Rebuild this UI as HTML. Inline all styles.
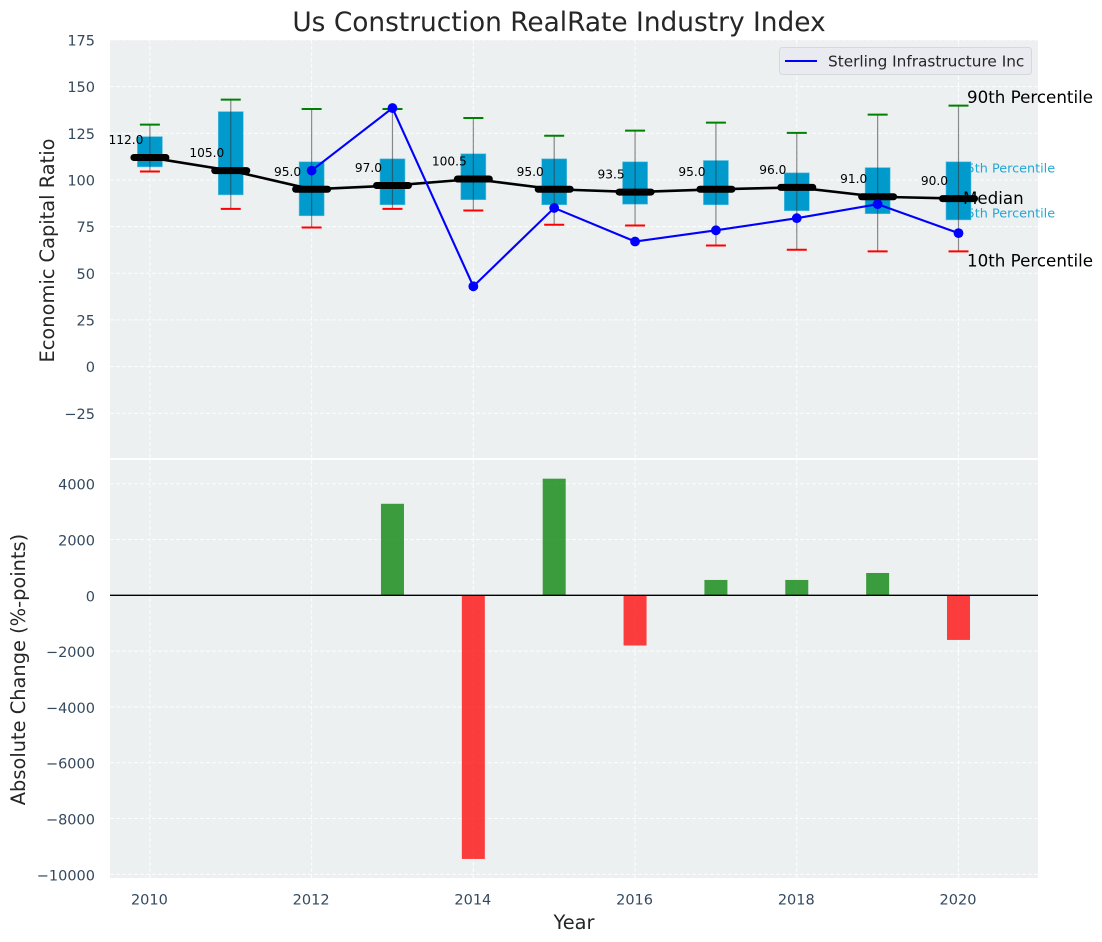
<!DOCTYPE html>
<html>
<head>
<meta charset="utf-8">
<title>Us Construction RealRate Industry Index</title>
<style>
html,body{margin:0;padding:0;background:#fff;}
svg{display:block;font-family:"DejaVu Sans","Liberation Sans",sans-serif;}
</style>
</head>
<body>
<svg id="chart" width="1102" height="942" viewBox="0 0 1102 942" xmlns="http://www.w3.org/2000/svg">
  <text x="559" y="31" font-size="26.4" fill="#262626" text-anchor="middle">Us Construction RealRate Industry Index</text>
  <rect x="110" y="40" width="928" height="418" fill="#ecf0f1"/>
  <rect x="110" y="460" width="928" height="418" fill="#ecf0f1"/>
  <g id="grid"></g>
  <g id="ticks"></g>
  <g id="percentile-side-labels"></g>
  <g id="boxes"></g>
  <g id="median-line"></g>
  <g id="company-line"></g>
  <g id="median-labels"></g>
  <g id="change-bars"></g>
  <text transform="translate(54 250.5) rotate(-90)" font-size="19.4" fill="#262626" text-anchor="middle">Economic Capital Ratio</text>
  <text transform="translate(25 669.5) rotate(-90)" font-size="19.4" fill="#262626" text-anchor="middle">Absolute Change (%-points)</text>
  <text x="574" y="929" font-size="19.4" fill="#262626" text-anchor="middle">Year</text>
  <g>
    <rect x="779.5" y="47.5" width="252" height="27" rx="3" fill="#e9ebf0" stroke="#d5d8dc"/>
    <line x1="785" y1="61" x2="817" y2="61" stroke="#0000ff" stroke-width="2"/>
    <text x="828" y="66.5" font-size="15.3" fill="#262626">Sterling Infrastructure Inc</text>
  </g>
</svg>
<script>
var years = [2010,2011,2012,2013,2014,2015,2016,2017,2018,2019,2020];
var p90 = [129.6,143,138,138,133.2,123.7,126.4,130.7,125.2,135,139.8];
var p75 = [123.2,136.6,109.7,111.3,114,111.3,109.7,110.4,103.8,106.6,109.7];
var medians = [112,105,95,97,100.5,95,93.5,95,96,91,90];
var p25 = [107,92,80.8,86.7,89.4,86.7,87,86.7,83.5,81.9,78.6];
var p10 = [104.5,84.5,74.5,84.5,83.6,76,75.6,64.9,62.6,61.7,61.7];
var companyYears = [2012,2013,2014,2015,2016,2017,2018,2019,2020];
var companyValues = [105,138.5,43,85,67,73,79.5,87,71.5];
var changeYears = [2013,2014,2015,2016,2017,2018,2019,2020];
var changeValues = [3280,-9450,4180,-1800,550,550,800,-1600];
var xTickYears = [2010,2012,2014,2016,2018,2020];
var upperTicks = [175,150,125,100,75,50,25,0,-25];
var lowerTicks = [4000,2000,0,-2000,-4000,-6000,-8000,-10000];

var NS = 'http://www.w3.org/2000/svg';
function xScale(v){ return 149.9 + (v - 2010) * 80.86; }
function yUp(v){ return 366.6 - v * 1.8667; }
function yLow(v){ return 595.3 - v * 0.0279; }
function make(parentId, tag, attrs, text){
  var el = document.createElementNS(NS, tag);
  for (var k in attrs) el.setAttribute(k, attrs[k]);
  if (text !== undefined) el.textContent = text;
  document.getElementById(parentId).appendChild(el);
  return el;
}
function fmt(v){ return String(v).replace('-', '\u2212'); }
var el;

// grid
xTickYears.forEach(function(y){
  [[40,458],[460,878]].forEach(function(r){
    el = make('grid','line',{x1:xScale(y),x2:xScale(y),y1:r[0],y2:r[1],stroke:'#ffffff','stroke-width':1.1,'stroke-dasharray':'4 2',opacity:0.8});
    
    
  });
});
upperTicks.forEach(function(t){
  el = make('grid','line',{x1:110,x2:1038,y1:yUp(t),y2:yUp(t),stroke:'#ffffff','stroke-width':1.1,'stroke-dasharray':'4 2',opacity:0.8});
  
  
  el = make('ticks','text',{x:95,y:yUp(t)+5.5,'font-size':14.5,fill:'#34495e','text-anchor':'end'},fmt(t));
  
  
});
lowerTicks.forEach(function(t){
  el = make('grid','line',{x1:110,x2:1038,y1:yLow(t),y2:yLow(t),stroke:'#ffffff','stroke-width':1.1,'stroke-dasharray':'4 2',opacity:0.8});
  
  
  el = make('ticks','text',{x:95,y:yLow(t)+6,'font-size':14.5,fill:'#34495e','text-anchor':'end'},fmt(t));
  
  
});
xTickYears.forEach(function(y){
  el = make('ticks','text',{x:xScale(y)-0.5,y:904.5,'font-size':14.5,fill:'#34495e','text-anchor':'middle'},String(y));
  
  
});

// side annotations for the last year
var last = years.length - 1;
var lastX = xScale(years[last]);
el = make('percentile-side-labels','text',{x:lastX,y:yUp(p75[last])+10.5,'font-size':12.8,fill:'#009acd',opacity:0.85},'75th Percentile');


el = make('percentile-side-labels','text',{x:lastX,y:yUp(p25[last])-2.5,'font-size':12.8,fill:'#009acd',opacity:0.85},'25th Percentile');



// boxes, whiskers, caps
years.forEach(function(y,i){
  var cx = xScale(y);
  el = make('boxes','rect',{x:cx-12.5,y:yUp(p75[i]),width:25,height:yUp(p25[i])-yUp(p75[i]),fill:'#009acd',stroke:'#5cc0e0','stroke-width':0.6});
  
  
  el = make('boxes','line',{x1:cx,x2:cx,y1:yUp(p90[i]),y2:yUp(p10[i]),stroke:'#333333','stroke-width':1.2,opacity:0.55});
  
  
  el = make('boxes','line',{x1:cx-10,x2:cx+10,y1:yUp(p90[i]),y2:yUp(p90[i]),stroke:'#008000','stroke-width':2});
  
  
  el = make('boxes','line',{x1:cx-10,x2:cx+10,y1:yUp(p10[i]),y2:yUp(p10[i]),stroke:'#ff0000','stroke-width':2});
  
  
});

// median trend + thick median bars
el = make('median-line','polyline',{points:years.map(function(y,i){return xScale(y)+','+yUp(medians[i]);}).join(' '),fill:'none',stroke:'#000000','stroke-width':2.6});


years.forEach(function(y,i){
  var cx = xScale(y);
  el = make('median-line','line',{x1:cx-16,x2:cx+16,y1:yUp(medians[i]),y2:yUp(medians[i]),stroke:'#000000','stroke-width':7,'stroke-linecap':'round'});
  
  
  el = make('median-labels','text',{x:cx-24,y:yUp(medians[i])-13.5,'font-size':12.2,fill:'#000000','text-anchor':'middle'},medians[i].toFixed(1));
  
  
});

// company series
el = make('company-line','polyline',{points:companyYears.map(function(y,i){return xScale(y)+','+yUp(companyValues[i]);}).join(' '),fill:'none',stroke:'#0000ff','stroke-width':2.1});


companyYears.forEach(function(y,i){
  el = make('company-line','circle',{cx:xScale(y),cy:yUp(companyValues[i]),r:4.9,fill:'#0000ff'});
  
  
});

// annotations right of last box
el = make('median-labels','text',{x:967,y:yUp(p90[last])-2.5,'font-size':16.7,fill:'#000000'},'90th Percentile');


el = make('median-labels','text',{x:963,y:yUp(medians[last])+5.5,'font-size':16.7,fill:'#000000'},'Median');


el = make('median-labels','text',{x:967,y:yUp(p10[last])+15,'font-size':16.7,fill:'#000000'},'10th Percentile');



// change bars
changeYears.forEach(function(y,i){
  var v = changeValues[i], cx = xScale(y);
  var top = Math.min(yLow(v), yLow(0)), h = Math.abs(yLow(v) - yLow(0));
  el = make('change-bars','rect',{x:cx-11.5,y:top,width:23,height:h,fill:v >= 0 ? '#008000' : '#ff0000',opacity:0.75});
  
  
});
el = make('change-bars','line',{x1:110,x2:1038,y1:yLow(0),y2:yLow(0),stroke:'#000000','stroke-width':1.3});


</script>
</body>
</html>
